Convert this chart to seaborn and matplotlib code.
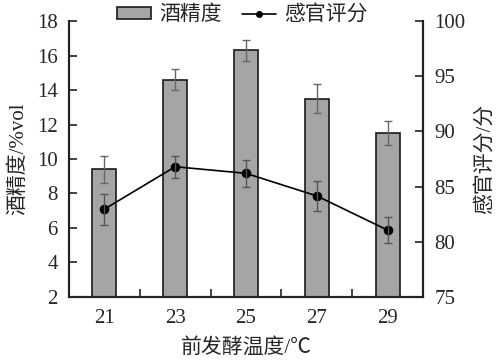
import numpy as np
import matplotlib
matplotlib.use('Agg')
import matplotlib.pyplot as plt
from matplotlib.ticker import FixedLocator
from matplotlib.patches import Patch
from matplotlib.lines import Line2D
import seaborn as sns

temps = ['21', '23', '25', '27', '29']
alcohol = [9.4, 14.6, 16.3, 13.5, 11.5]
alcohol_err = [0.8, 0.6, 0.6, 0.85, 0.7]
score = [82.95, 86.8, 86.2, 84.15, 81.05]
score_err = [1.4, 1.0, 1.2, 1.35, 1.2]

sns.set_style('white')
plt.rcParams['font.family'] = ['Liberation Serif', 'Noto Sans CJK SC']
plt.rcParams['axes.unicode_minus'] = False

fig = plt.figure(figsize=(4.99, 3.63), dpi=100)
ax = fig.add_axes([0.138, 0.182, 0.710, 0.760])

sns.barplot(x=temps, y=alcohol, color='#a5a5a5', saturation=1, width=0.34,
            edgecolor='#1a1a1a', linewidth=1.2, ax=ax)
ax.errorbar(range(len(temps)), alcohol, yerr=alcohol_err, fmt='none',
            ecolor='#666666', elinewidth=1, capsize=3, capthick=1)

ax2 = ax.twinx()
sns.pointplot(x=temps, y=score, color='black', markers='o', markersize=6,
              linewidth=1.2, ax=ax2)
ax2.errorbar(range(len(temps)), score, yerr=score_err, fmt='none',
             ecolor='#555555', elinewidth=1, capsize=3, capthick=1)

ax.set_ylim(2, 18)
ax.set_yticks(range(2, 19, 2))
ax2.set_ylim(75, 100)
ax2.set_yticks(range(75, 101, 5))
ax.set_xlim(-0.5, 4.5)

ax.set_xticks(range(len(temps)))
ax.set_xticklabels(temps)
ax.xaxis.set_minor_locator(FixedLocator([0.5, 1.5, 2.5, 3.5]))
ax.tick_params(axis='x', which='major', length=0, pad=9, labelsize=15)
ax.tick_params(axis='x', which='minor', direction='in', length=6, width=1.2,
               bottom=True, color='#222222')
ax.tick_params(axis='y', direction='in', length=6, width=1.2, pad=8,
               labelsize=15, left=True, color='#222222')
ax2.tick_params(axis='y', direction='in', length=6, width=1.2, pad=8,
                labelsize=15, right=True, color='#222222')

for a in (ax, ax2):
    a.spines['top'].set_visible(False)
    for s in ('left', 'right', 'bottom'):
        a.spines[s].set_linewidth(1.5)
        a.spines[s].set_color('#222222')

ax.set_xlabel('前发酵温度/℃', fontsize=15, labelpad=7)
ax.set_ylabel('酒精度/%vol', fontsize=15, labelpad=6)
ax2.set_ylabel('感官评分/分', fontsize=15, labelpad=7)

handles = [Patch(facecolor='#a5a5a5', edgecolor='#1a1a1a', linewidth=1.2),
           Line2D([], [], color='black', marker='o', markersize=4, linewidth=1.2)]
ax.legend(handles, ['酒精度', '感官评分'], loc='lower center',
          bbox_to_anchor=(0.49, 0.985), ncol=2, frameon=False, fontsize=15,
          handlelength=1.6, handleheight=0.5, handletextpad=0.4,
          columnspacing=1.0, borderpad=0, borderaxespad=0)

fig.savefig('out.png', dpi=100)
